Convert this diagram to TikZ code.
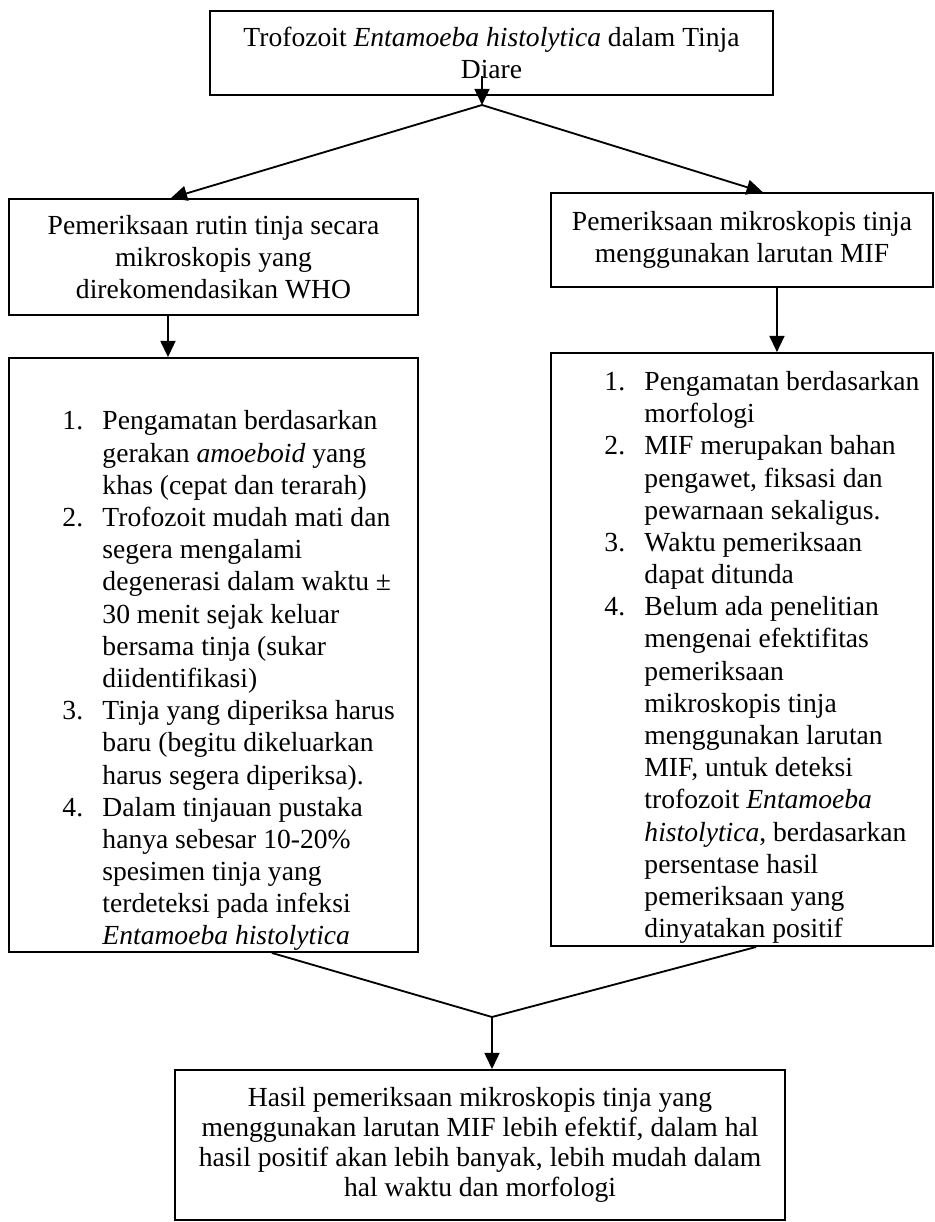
\documentclass[tikz,border=0pt]{standalone}
\usepackage{fontspec}
\setmainfont{Liberation Serif}
\usepackage{tikz}
\usetikzlibrary{arrows.meta}
\newcommand{\daftar}[1]{\begin{tabular}{@{}p{17.4pt}@{}l@{}}#1\end{tabular}}

\begin{document}
\begin{tikzpicture}[x=0.435pt,y=-0.435pt]
	\useasboundingbox (0,0) rectangle (934,1222);
	\begin{scope}[every node/.style={draw, line width=0.8pt, inner sep=0pt, align=center, font=\fontsize{12}{14}\selectfont}]
		\node[minimum width=244.9pt, minimum height=36.5pt] (atas) at (491.5,53) {Trofozoit \textit{Entamoeba histolytica} dalam Tinja\\Diare};
		\node[minimum width=177.9pt, minimum height=50.5pt] (kiri) at (213.5,257) {Pemeriksaan rutin tinja secara\\mikroskopis yang\\direkomendasikan WHO};
		\node[minimum width=166.2pt, minimum height=40.9pt] (kanan) at (742,240) {Pemeriksaan mikroskopis tinja\\menggunakan larutan MIF};
		\node[minimum width=177.9pt, minimum height=258.4pt] (kiri2) at (213.5,655) {};
		\node[minimum width=166.2pt, minimum height=258pt] (kanan2) at (742,649.5) {};
		\node[minimum width=265pt, minimum height=65.3pt, font=\fontsize{12}{13}\selectfont] (hasil) at (480,1145) {Hasil pemeriksaan mikroskopis tinja yang\\menggunakan larutan MIF lebih efektif, dalam hal\\hasil positif akan lebih banyak, lebih mudah dalam\\hal waktu dan morfologi};
	\end{scope}

	% isi kotak
	\begin{scope}[every node/.style={anchor=north west, inner sep=0pt, font=\fontsize{12}{14}\selectfont}]
		\node (isikiri) at (62,407) {\daftar{
			1. & Pengamatan berdasarkan\\
			   & gerakan \textit{amoeboid} yang\\
			   & khas (cepat dan terarah)\\
			2. & Trofozoit mudah mati dan\\
			   & segera mengalami\\
			   & degenerasi dalam waktu ±\\
			   & 30 menit sejak keluar\\
			   & bersama tinja (sukar\\
			   & diidentifikasi)\\
			3. & Tinja yang diperiksa harus\\
			   & baru (begitu dikeluarkan\\
			   & harus segera diperiksa).\\
			4. & Dalam tinjauan pustaka\\
			   & hanya sebesar 10-20\%\\
			   & spesimen tinja yang\\
			   & terdeteksi pada infeksi\\
			   & \textit{Entamoeba histolytica}}};
		\node (isikanan) at (604,367.5) {\daftar{
			1. & Pengamatan berdasarkan\\
			   & morfologi\\
			2. & MIF merupakan bahan\\
			   & pengawet, fiksasi dan\\
			   & pewarnaan sekaligus.\\
			3. & Waktu pemeriksaan\\
			   & dapat ditunda\\
			4. & Belum ada penelitian\\
			   & mengenai efektifitas\\
			   & pemeriksaan\\
			   & mikroskopis tinja\\
			   & menggunakan larutan\\
			   & MIF, untuk deteksi\\
			   & trofozoit \textit{Entamoeba}\\
			   & \textit{histolytica}, berdasarkan\\
			   & persentase hasil\\
			   & pemeriksaan yang\\
			   & dinyatakan positif}};
	\end{scope}

	\coordinate (pangkal) at (482,76);
	\coordinate (cabang) at (482,105);
	\coordinate (gabung) at (492,1017);

	\begin{scope}[every edge/.style={draw=black, line width=0.8pt},
	              panah/.style={-{Triangle[width=6.5pt,length=7pt]}}]
		\path (pangkal) edge[panah] (cabang);
		\path (cabang) edge[panah] ([xshift=-18.5pt]kiri.north);
		\path (cabang) edge[panah] ([xshift=9pt]kanan.north);
		\path ([xshift=-19.8pt]kiri.south) edge[panah] ([xshift=-19.8pt]kiri2.north);
		\path ([xshift=15.2pt]kanan.south) edge[panah] ([xshift=15.2pt]kanan2.north);
		\path ([xshift=25.4pt]kiri2.south) edge (gabung);
		\path ([xshift=6.1pt]kanan2.south) edge (gabung);
		\path (gabung) edge[panah] (gabung |- hasil.north);
	\end{scope}
\end{tikzpicture}
\end{document}
